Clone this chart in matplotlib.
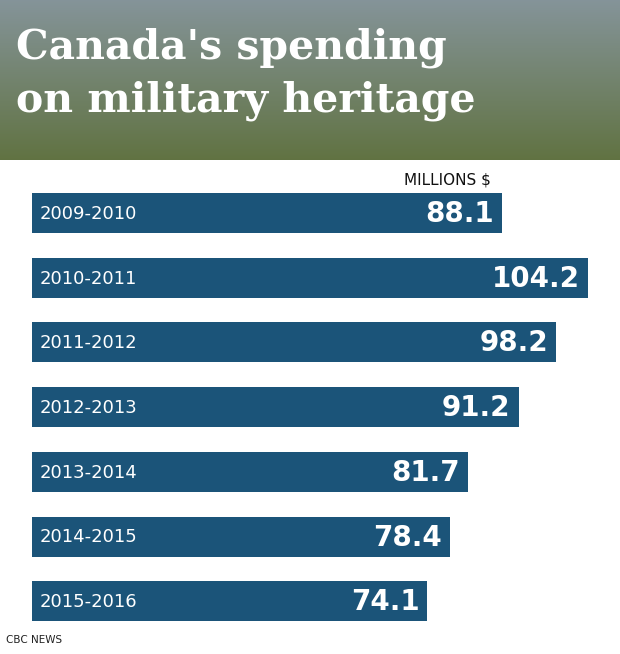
import numpy as np
import matplotlib.pyplot as plt

years = ["2009-2010", "2010-2011", "2011-2012", "2012-2013", "2013-2014", "2014-2015", "2015-2016"]
spending = [88.1, 104.2, 98.2, 91.2, 81.7, 78.4, 74.1]

W, H = 620, 654
fig = plt.figure(figsize=(W / 100, H / 100), dpi=100)
fig.patch.set_facecolor("white")

# header "photo" stand-in: sky to field gradient
hdr = fig.add_axes([0, 1 - 160 / H, 1, 160 / H])
grad = np.linspace(0, 1, 160)[:, None]
top = np.array([0.52, 0.58, 0.60])
bot = np.array([0.38, 0.45, 0.26])
img = top + (bot - top) * grad[..., None] * np.ones((1, 10, 1))
hdr.imshow(img, aspect="auto", extent=[0, 1, 0, 1])
hdr.axis("off")
hdr.text(0.025, 0.70, "Canada's spending", color="white", fontsize=29.5,
         fontweight="bold", family="DejaVu Serif", va="center", transform=hdr.transAxes)
hdr.text(0.025, 0.37, "on military heritage", color="white", fontsize=29.5,
         fontweight="bold", family="DejaVu Serif", va="center", transform=hdr.transAxes)

ax = fig.add_axes([32 / W, 0, (W - 32) / W, 1])
ax.set_ylim(H, 0)
ax.set_xlim(0, (W - 32) / 5.335)
ax.axis("off")

ys = 213 + np.arange(len(years)) * 64.7
ax.barh(ys, spending, height=40, color="#1b5479", left=0)
for y, yr, v in zip(ys, years, spending):
    ax.text(1.5, y + 1, yr, color="white", fontsize=13, va="center", ha="left")
    ax.text(v - 1.5, y + 1, f"{v:.1f}", color="white", fontsize=20,
            fontweight="bold", va="center", ha="right")

ax.text(88.1 - 2, 180, "MILLIONS $", fontsize=11, va="center", ha="right", color="#111111")
fig.text(6 / W, 1 - 640 / H, "CBC NEWS", fontsize=7.5, va="center", color="#222222")

fig.savefig("out.png", dpi=100)
